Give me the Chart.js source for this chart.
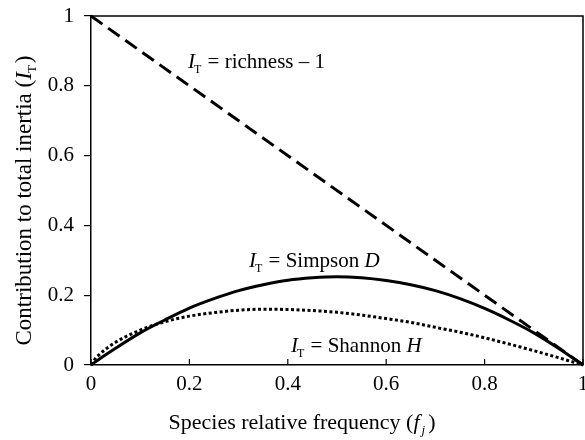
<!DOCTYPE html>
<html><head><meta charset="utf-8">
<script src="https://cdn.jsdelivr.net/npm/chart.js@4.4.0/dist/chart.umd.min.js"></script>
<style>html,body{margin:0;padding:0;background:#fff}canvas{display:block}</style>
</head><body>
<canvas id="c" width="585" height="440"></canvas>
<script>
const freq = [0, 0.02, 0.05, 0.1, 0.15, 0.2, 0.25, 0.3, 0.35, 0.4, 0.45, 0.5, 0.55, 0.6, 0.65, 0.7, 0.75, 0.8, 0.85, 0.9, 0.95, 1];
const simpson = [0, 0.02, 0.048, 0.092, 0.129, 0.163, 0.19, 0.213, 0.23, 0.243, 0.25, 0.253, 0.25, 0.242, 0.23, 0.213, 0.19, 0.162, 0.129, 0.092, 0.048, 0];
const shannonFreq = [0, 0.01, 0.02, 0.05, 0.1, 0.15, 0.2, 0.25, 0.3, 0.35, 0.4, 0.45, 0.5, 0.55, 0.6, 0.65, 0.7, 0.75, 0.8, 0.85, 0.9, 0.95, 1];
const shannon = [0, 0.02, 0.034, 0.065, 0.1, 0.124, 0.14, 0.15, 0.157, 0.16, 0.159, 0.156, 0.151, 0.143, 0.133, 0.122, 0.108, 0.094, 0.078, 0.06, 0.041, 0.021, 0];
const richFreq = [0, 1];
const richness = [1, 0];
const xTicks = [0, 0.2, 0.4, 0.6, 0.8, 1];
const yTicks = [0, 0.2, 0.4, 0.6, 0.8, 1];

const FONT = "'Liberation Serif', 'Times New Roman', serif";
const pts = (xs, ys) => xs.map((x, i) => ({x, y: ys[i]}));
const fmt = v => String(Math.round(v * 10) / 10);

function drawIT(ctx, x, y, rest, restItalic) {
  ctx.save();
  ctx.fillStyle = '#000';
  ctx.textBaseline = 'alphabetic';
  ctx.textAlign = 'left';
  ctx.font = 'italic 21px ' + FONT;
  ctx.fillText('I', x, y);
  let w = ctx.measureText('I').width;
  ctx.font = '12px ' + FONT;
  ctx.fillText('T', x + w - 1, y + 5);
  let w2 = ctx.measureText('T').width;
  let cx = x + w - 1 + w2 + 1;
  ctx.font = '21px ' + FONT;
  ctx.fillText(rest, cx, y);
  cx += ctx.measureText(rest).width;
  if (restItalic) {
    ctx.font = 'italic 21px ' + FONT;
    ctx.fillText(restItalic, cx, y);
  }
  ctx.restore();
}

const deco = {
  id: 'deco',
  afterDraw(chart) {
    const ctx = chart.ctx, a = chart.chartArea;
    const xs = chart.scales.x;
    ctx.save();
    ctx.strokeStyle = '#000';
    ctx.lineWidth = 1.5;
    ctx.beginPath();
    ctx.moveTo(a.left, a.top); ctx.lineTo(a.right, a.top); ctx.lineTo(a.right, a.bottom);
    ctx.stroke();
    ctx.lineWidth = 1.2;
    xTicks.forEach(v => {
      const px = xs.getPixelForValue(v);
      ctx.beginPath(); ctx.moveTo(px, a.bottom); ctx.lineTo(px, a.bottom - 6); ctx.stroke();
    });
    // x tick labels
    ctx.fillStyle = '#000';
    ctx.font = '21px ' + FONT;
    ctx.textAlign = 'center';
    ctx.textBaseline = 'top';
    xTicks.forEach(v => {
      ctx.fillText(fmt(v), xs.getPixelForValue(v), a.bottom + 9);
    });
    ctx.restore();

    drawIT(ctx, 188, 68, ' = richness \u2013 1');
    drawIT(ctx, 249, 267, ' = Simpson ', 'D');
    drawIT(ctx, 291, 352, ' = Shannon ', 'H');

    // x axis title
    ctx.save();
    ctx.fillStyle = '#000';
    ctx.textBaseline = 'alphabetic';
    ctx.textAlign = 'left';
    const FS = 22;
    const t1 = 'Species relative frequency (';
    ctx.font = 'italic ' + FS + 'px ' + FONT;
    const wf = ctx.measureText('f').width;
    ctx.font = '13px ' + FONT;
    const wj = ctx.measureText('j').width;
    ctx.font = FS + 'px ' + FONT;
    const w1 = ctx.measureText(t1).width, w3 = ctx.measureText(')').width;
    const total = w1 + wf + 2 + wj + 3 + w3;
    let x0 = 302 - total / 2, by = 429;
    ctx.fillText(t1, x0, by);
    ctx.font = 'italic ' + FS + 'px ' + FONT;
    ctx.fillText('f', x0 + w1, by);
    ctx.font = 'italic 13px ' + FONT;
    ctx.fillText('j', x0 + w1 + wf + 2, by + 5);
    ctx.font = FS + 'px ' + FONT;
    ctx.fillText(')', x0 + w1 + wf + 2 + wj + 3, by);
    ctx.restore();

    // y axis title
    ctx.save();
    ctx.translate(31, 200);
    ctx.rotate(-Math.PI / 2);
    ctx.fillStyle = '#000';
    ctx.textBaseline = 'alphabetic';
    ctx.textAlign = 'left';
    const YS = 23;
    ctx.font = YS + 'px ' + FONT;
    const s1 = 'Contribution to total inertia (';
    const ws1 = ctx.measureText(s1).width, wcl = ctx.measureText(')').width;
    ctx.font = 'italic ' + YS + 'px ' + FONT;
    const wI = ctx.measureText('I').width;
    ctx.font = '13px ' + FONT;
    const wT = ctx.measureText('T').width;
    const tot = ws1 + wI + wT + 2 + wcl;
    let sx = -tot / 2;
    ctx.font = YS + 'px ' + FONT;
    ctx.fillText(s1, sx, 0);
    ctx.font = 'italic ' + YS + 'px ' + FONT;
    ctx.fillText('I', sx + ws1, 0);
    ctx.font = '13px ' + FONT;
    ctx.fillText('T', sx + ws1 + wI - 1, 5);
    ctx.font = YS + 'px ' + FONT;
    ctx.fillText(')', sx + ws1 + wI + wT + 1, 0);
    ctx.restore();
  }
};

new Chart(document.getElementById('c'), {
  type: 'scatter',
  data: {
    datasets: [
      { label: 'richness', data: pts(richFreq, richness), showLine: true, borderColor: '#000', borderWidth: 3, borderDash: [14, 7], pointRadius: 0, clip: 4 },
      { label: 'Simpson', data: pts(freq, simpson), showLine: true, borderColor: '#000', borderWidth: 3, cubicInterpolationMode: 'monotone', pointRadius: 0, clip: 4 },
      { label: 'Shannon', data: pts(shannonFreq, shannon), showLine: true, borderColor: '#000', borderWidth: 3, borderDash: [3, 2.5], cubicInterpolationMode: 'monotone', pointRadius: 0, clip: 4 }
    ]
  },
  options: {
    responsive: false,
    animation: false,
    devicePixelRatio: 1,
    layout: { padding: { top: 16, right: 2, left: 0, bottom: 0 } },
    plugins: { legend: { display: false }, tooltip: { enabled: false } },
    scales: {
      x: {
        type: 'linear', min: 0, max: 1,
        afterFit(s) { s.height = 75; s.paddingLeft = 0; s.paddingRight = 0; },
        afterBuildTicks(s) { s.ticks = xTicks.map(v => ({ value: v })); },
        grid: { display: false },
        border: { display: true, color: '#000', width: 1.5 },
        ticks: { display: false }
      },
      y: {
        type: 'linear', min: 0, max: 1,
        afterFit(s) { s.width = 91; s.paddingTop = 0; s.paddingBottom = 0; },
        afterBuildTicks(s) { s.ticks = yTicks.map(v => ({ value: v })); },
        grid: { display: true, drawOnChartArea: false, drawTicks: true, tickLength: 7, color: '#000', lineWidth: 1.2 },
        border: { display: true, color: '#000', width: 1.5 },
        ticks: { color: '#000', padding: 10, font: { family: FONT, size: 21 }, callback: v => fmt(v) }
      }
    }
  },
  plugins: [deco]
});
</script>
</body></html>
